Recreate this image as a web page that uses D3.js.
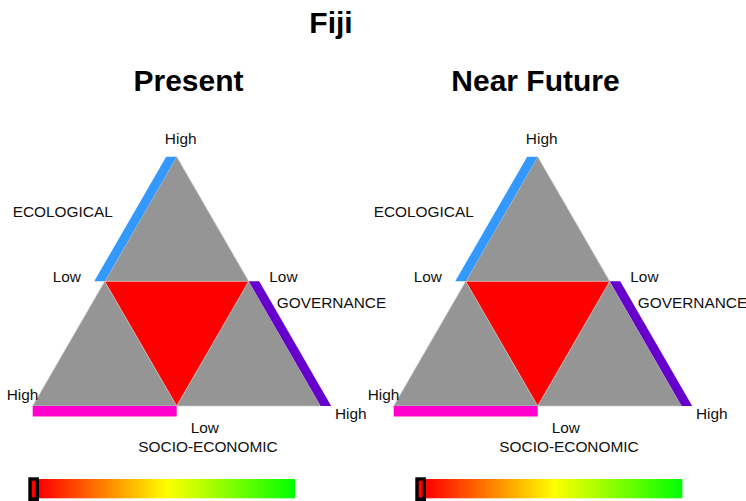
<!DOCTYPE html>
<html>
<head>
<meta charset="utf-8">
<script src="https://cdn.jsdelivr.net/npm/d3@7"></script>
<style>
  html, body { margin: 0; padding: 0; background: #fff; }
  svg { display: block; font-family: "Liberation Sans", Arial, Helvetica, sans-serif; }
</style>
</head>
<body>
<script>
// ---- data ----
const chartTitle = "Fiji";
const panels = ["Present", "Near Future"];
const axisNames = ["ECOLOGICAL", "GOVERNANCE", "SOCIO-ECONOMIC"];
const levelLabels = ["Low", "High"];
// vulnerability per dimension (0 = Low, 1 = High) for each panel
const ecological = [0, 0];
const governance = [0, 0];
const socioEconomic = [0, 0];
// overall index on the colour bar (0 = red end, 1 = green end)
const overallIndex = [0, 0];
const gradientStops = [0, 0.5, 1];
const gradientColors = ["#ff0000", "#ffff00", "#00ff00"];

// ---- layout ----
const W = 746, H = 501;
const svg = d3.select("body").append("svg").attr("width", W).attr("height", H);

const panelCx = [176.7, 537.7];
const titleCx = [188.5, 535.5];
const barX = [[39, 295], [426, 682.3]];
const topY = 156.7, baseY = 406, half = 144;
const stripColors = ["#3399ff", "#6600cc", "#ff00cc"];
const stripOffset = [[-10.5, 0], [10.5, 0], [0, 10.5]];

svg.append("text").attr("x", 331).attr("y", 33).attr("text-anchor", "middle")
  .attr("font-size", 30).attr("font-weight", "bold").text(chartTitle);

const defs = svg.append("defs");
const grad = defs.append("linearGradient").attr("id", "cbar").attr("x1", "0%").attr("x2", "100%");
gradientStops.forEach((s, i) => grad.append("stop").attr("offset", s).attr("stop-color", gradientColors[i]));
const colorScale = d3.scaleLinear().domain(gradientStops).range(gradientColors);

panels.forEach((name, p) => {
  const cx = panelCx[p];
  const A = [cx, topY], L = [cx - half, baseY], R = [cx + half, baseY];
  const mid = (a, b) => [(a[0] + b[0]) / 2, (a[1] + b[1]) / 2];
  const ML = mid(A, L), MR = mid(A, R), BM = [cx, baseY];
  // each axis: Low point -> High point
  const axes = [
    { low: ML, high: A, v: ecological[p] },
    { low: MR, high: R, v: governance[p] },
    { low: BM, high: L, v: socioEconomic[p] }
  ];
  const g = svg.append("g");
  const line = d3.line();

  g.append("text").attr("x", titleCx[p]).attr("y", 91).attr("text-anchor", "middle")
    .attr("font-size", 30).attr("font-weight", "bold").text(name);

  // outer triangle
  g.append("path").attr("d", line([A, L, R]) + "Z")
    .attr("fill", "#959595").attr("stroke", "#c8c8c8").attr("stroke-width", 0.7);

  // axis strips
  axes.forEach((ax, i) => {
    const s = d3.scaleLinear().domain([0, 1]);
    const pt = t => [d3.interpolateNumber(ax.low[0], ax.high[0])(s(t)), d3.interpolateNumber(ax.low[1], ax.high[1])(s(t))];
    const p0 = pt(0), p1 = pt(1), o = stripOffset[i];
    g.append("path").attr("d", line([p0, p1, [p1[0] + o[0], p1[1] + o[1]], [p0[0] + o[0], p0[1] + o[1]]]) + "Z")
      .attr("fill", stripColors[i]);
    ax.point = pt(ax.v);
  });

  // vulnerability triangle
  g.append("path").attr("d", line(axes.map(a => a.point)) + "Z")
    .attr("fill", "#ff0000").attr("stroke", "#d8d8d8").attr("stroke-width", 0.7);

  // labels
  const lab = [
    [levelLabels[1], cx + 4, 144, "middle"],
    [axisNames[0], cx - 164, 216.7, "start"],
    [levelLabels[0], cx - 124, 282, "start"],
    [levelLabels[0], cx + 92.6, 282, "start"],
    [axisNames[1], cx + 100, 308, "start"],
    [levelLabels[1], cx - 170, 400, "start"],
    [levelLabels[1], cx + 158.3, 419, "start"],
    [levelLabels[0], cx + 14, 433, "start"],
    [axisNames[2], cx - 38.4, 452, "start"]
  ];
  lab.forEach(d => g.append("text").attr("x", d[1]).attr("y", d[2]).attr("text-anchor", d[3])
    .attr("font-size", 15.4).attr("fill", "#111").text(d[0]));

  // colour bar
  const xs = d3.scaleLinear().domain([0, 1]).range(barX[p]);
  g.append("rect").attr("x", xs(0)).attr("y", 479).attr("width", xs(1) - xs(0)).attr("height", 19.3)
    .attr("fill", "url(#cbar)");
  const mx = xs(overallIndex[p]);
  g.append("rect").attr("x", mx - 10.7).attr("y", 477.3).attr("width", 10.7).attr("height", 25).attr("fill", "#000");
  g.append("rect").attr("x", mx - 7.3).attr("y", 480.7).attr("width", 4).attr("height", 16.6)
    .attr("fill", colorScale(overallIndex[p]));
});
</script>
</body>
</html>
